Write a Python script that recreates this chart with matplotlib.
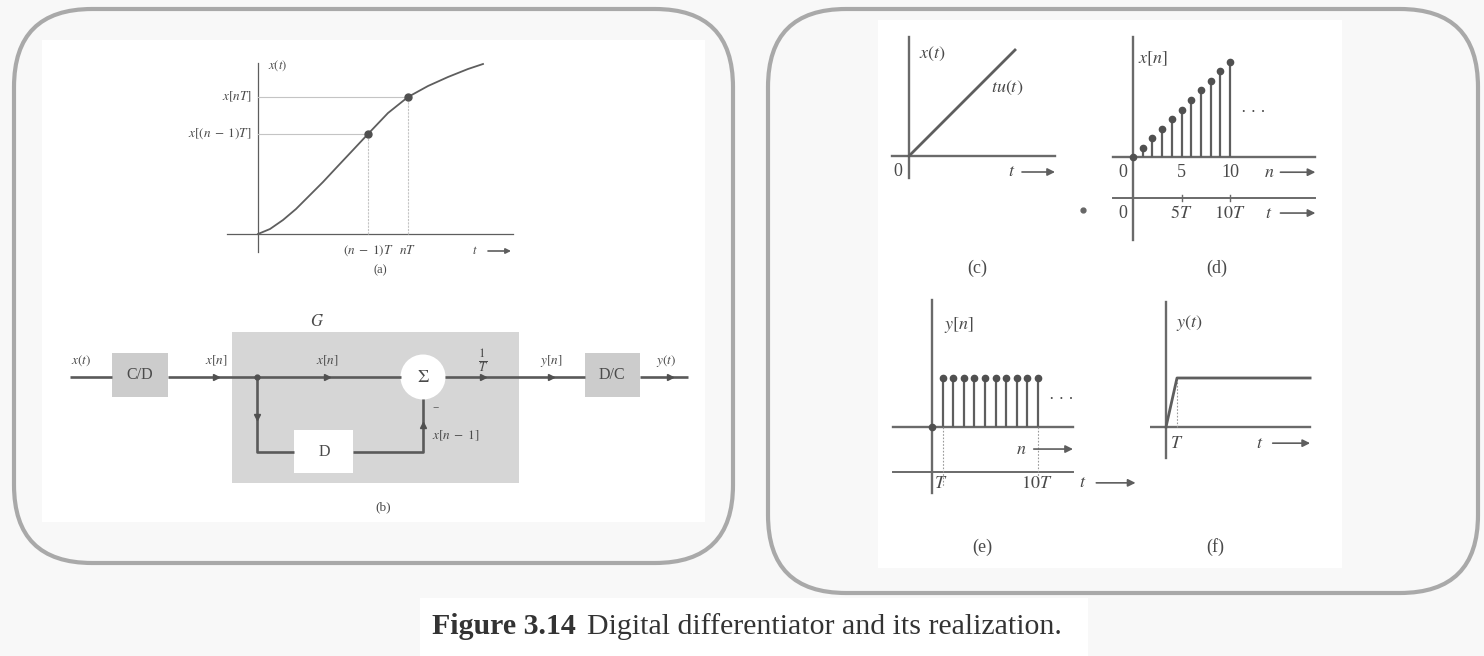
import matplotlib.pyplot as plt
from matplotlib.patches import FancyBboxPatch, Rectangle, Circle

plt.rcParams['font.family'] = ['Liberation Serif', 'DejaVu Serif']
plt.rcParams['mathtext.fontset'] = 'stix'

W, H = 1484, 656
INK = '#4a4a4a'
LINE = '#5e5e5e'
FS = 13  # label size in the right-hand plots

# (a) smooth input x(t) and two of its samples
a_t = [0, 1.2, 2.5, 3.8, 5.0, 6.5, 7.9, 9.5, 11.0, 13.0, 15.0, 17.0, 19.0, 21.0, 22.5]
a_x = [0, 0.5, 1.4, 2.5, 3.7, 5.2, 6.7, 8.4, 10.0, 12.1, 13.7, 14.8, 15.7, 16.5, 17.0]
a_samp_t = [11.0, 15.0]
a_samp_x = [10.0, 13.7]
a_samp_lab = [r'$x[(n\;-\;1)T]$', r'$x[nT]$']
a_tick_lab = [r'$(n\;-\;1)T$', r'$nT$']

# (c) ramp x(t) = t u(t)
c_t = [0, 10.6]
c_x = [0, 10.6]

# (d) sampled ramp x[n]
d_n = [0, 1, 2, 3, 4, 5, 6, 7, 8, 9, 10]
d_x = [0, 1, 2, 3, 4, 5, 6, 7, 8, 9, 10]
d_ticks = [0, 5, 10]
d_nlab = ['0', '5', '10']
d_tlab = ['0', r'$5T$', r'$10T$']

# (e) differentiator output y[n]
e_n = [0, 1, 2, 3, 4, 5, 6, 7, 8, 9, 10]
e_y = [0, 1, 1, 1, 1, 1, 1, 1, 1, 1, 1]

# (f) reconstructed y(t), time in units of T
f_t = [0, 1, 13.1]
f_y = [0, 1, 1]

fig = plt.figure(figsize=(W / 100, H / 100), dpi=100, facecolor='#f8f8f8')
bg = fig.add_axes([0, 0, 1, 1])
bg.set_xlim(0, W)
bg.set_ylim(H, 0)
bg.axis('off')


def panel(x0, y0, x1, y1, ox, oy, sx, sy):
    # axes over a pixel box, data origin at pixel (ox, oy)
    ax = fig.add_axes([x0 / W, 1 - y1 / H, (x1 - x0) / W, (y1 - y0) / H])
    ax.set_xlim((x0 - ox) / sx, (x1 - ox) / sx)
    ax.set_ylim((oy - y1) / sy, (oy - y0) / sy)
    ax.axis('off')
    return ax


def t_arrow(ax, xt, x0, x1, y, lab, size):
    ax.text(xt, y, lab, ha='center', va='center', color=INK, fontsize=size)
    ax.annotate('', xy=(x1, y), xytext=(x0, y),
                arrowprops=dict(arrowstyle='-|>', color=LINE, lw=1.2,
                                mutation_scale=size * 0.85, shrinkA=0, shrinkB=0))


# frames and paper areas
bg.add_patch(Rectangle((42, 40), 663, 482, fc='white', ec='none'))
bg.add_patch(Rectangle((878, 20), 464, 548, fc='white', ec='none'))
bg.add_patch(Rectangle((420, 598), 668, 58, fc='white', ec='none'))
for x0, y0, x1, y1 in [(14, 9, 733, 563), (768, 9, 1478, 593)]:
    bg.add_patch(FancyBboxPatch((x0, y0), x1 - x0, y1 - y0,
                                boxstyle='round,pad=0,rounding_size=78',
                                fc='none', ec='#a9a9a9', lw=3.0))

# ---- (a)
ax = panel(150, 40, 550, 300, 258, 234, 10, 10)
ax.plot([0, 0], [-1.8, 17.1], color=LINE, lw=0.9)
ax.plot([-3.1, 25.5], [0, 0], color=LINE, lw=0.9)
for t, x, lab, tl in zip(a_samp_t, a_samp_x, a_samp_lab, a_tick_lab):
    ax.plot([0, t], [x, x], color='#c4c4c4', lw=0.8)
    ax.plot([t, t], [0, x], color='#c4c4c4', lw=0.8, ls=(0, (2, 1)))
    ax.text(-0.6, x, lab, ha='right', va='center', color=INK, fontsize=9.5)
    ax.text(t, -1.7, tl, ha='center', va='center', color=INK, fontsize=9.5)
ax.plot(a_t, a_x, color=LINE, lw=1.3)
ax.plot(a_samp_t, a_samp_x, 'o', color='#505050', ms=5)
ax.text(2.0, 16.8, r'$x(t)$', ha='center', va='center', color=INK, fontsize=9)
t_arrow(ax, 21.7, 23.0, 25.3, -1.7, r'$t$', 9)
ax.text(12.2, -3.6, '(a)', ha='center', va='center', color=INK, fontsize=9)

# ---- (b) block diagram, pixel units
ly = 377
lk = dict(color='#5a5a5a', lw=1.9, solid_capstyle='butt')
bg.add_patch(Rectangle((232, 332), 287, 151, fc='#d6d6d6', ec='none'))
bg.add_patch(Rectangle((112, 353), 56, 44, fc='#cccccc', ec='none'))
bg.add_patch(Rectangle((585, 353), 55, 44, fc='#cccccc', ec='none'))
bg.plot([70, 112], [ly, ly], **lk)
bg.plot([168, 401], [ly, ly], **lk)
bg.plot([445, 585], [ly, ly], **lk)
bg.plot([640, 688], [ly, ly], **lk)
bg.plot([257, 257, 294], [ly, 452, 452], **lk)
bg.plot([353, 423, 423], [452, 452, 399], **lk)
bg.add_patch(Rectangle((294, 430), 59, 43, fc='white', ec='none'))
bg.add_patch(Circle((423, ly), 22.5, fc='white', ec='none'))
for px, py, m in [(216, ly, '>'), (327, ly, '>'), (483, ly, '>'), (551, ly, '>'),
                  (670, ly, '>'), (257, 417, 'v'), (423, 425, '^')]:
    bg.plot(px, py, marker=m, color='#505050', ms=5)
bg.plot(257, ly, 'o', color='#505050', ms=3.5)
bkw = dict(ha='center', va='center', color=INK, fontsize=9.5)
bg.text(81, 361, r'$x(t)$', **bkw)
bg.text(216, 361, r'$x[n]$', **bkw)
bg.text(327, 361, r'$x[n]$', **bkw)
bg.text(551, 361, r'$y[n]$', **bkw)
bg.text(666, 361, r'$y(t)$', **bkw)
bg.text(483, 361, r'$\frac{1}{T}$', ha='center', va='center', color=INK, fontsize=13)
bg.text(317, 322, r'$G$', ha='center', va='center', color=INK, fontsize=12)
bg.text(432, 436, r'$x[n\;-\;1]$', ha='left', va='center', color=INK, fontsize=9.5)
bg.text(436, 409, '\u2212', ha='center', va='center', color=INK, fontsize=8)
bg.text(423, ly, r'$\Sigma$', ha='center', va='center', color=INK, fontsize=13)
bg.text(140, 375, 'C/D', ha='center', va='center', color=INK, fontsize=11.5)
bg.text(612, 375, 'D/C', ha='center', va='center', color=INK, fontsize=11.5)
bg.text(324, 452, 'D', ha='center', va='center', color=INK, fontsize=11.5)
bg.text(383, 507, '(b)', **bkw)

# ---- (c)
ax = panel(880, 25, 1070, 290, 909, 156, 10, 10)
ax.plot([0, 0], [-2.2, 11.9], color='#6a6a6a', lw=1.7)
ax.plot([-1.7, 14.6], [0, 0], color='#6a6a6a', lw=1.7)
ax.plot(c_t, c_x, color=LINE, lw=2.0)
ax.text(2.3, 10.2, r'$x(t)$', ha='center', va='center', color=INK, fontsize=FS)
ax.text(9.8, 6.8, r'$tu(t)$', ha='center', va='center', color=INK, fontsize=FS)
ax.text(-1.1, -1.6, '0', ha='center', va='center', color=INK, fontsize=FS)
t_arrow(ax, 10.3, 11.3, 14.6, -1.6, r'$t$', FS)
ax.text(6.8, -11.2, '(c)', ha='center', va='center', color=INK, fontsize=FS)

# ---- (d)
ax = panel(1070, 25, 1340, 290, 1133, 157, 9.7, 9.5)
ax.plot([0, 0], [-8.7, 12.6], color='#6a6a6a', lw=1.7)
ax.plot([-2.1, 18.8], [0, 0], color='#6a6a6a', lw=1.7)
ax.plot([-2.1, 18.8], [-4.3, -4.3], color='#6a6a6a', lw=1.4)
ax.vlines(d_n, 0, d_x, color=LINE, lw=1.6)
ax.plot(d_n, d_x, 'o', color='#505050', ms=4.5)
for k, nl, tl in zip(d_ticks, d_nlab, d_tlab):
    dx = -1.0 if k == 0 else 0
    ax.text(k + dx, -1.6, nl, ha='center', va='center', color=INK, fontsize=FS)
    ax.text(k + dx, -5.9, tl, ha='center', va='center', color=INK, fontsize=FS)
    if k:
        ax.plot([k, k], [-4.0, -4.6], color='#6a6a6a', lw=1.0)
t_arrow(ax, 14.0, 15.2, 18.8, -1.6, r'$n$', FS)
t_arrow(ax, 14.0, 15.2, 18.8, -5.9, r'$t$', FS)
ax.text(12.4, 4.6, '\u00b7 \u00b7 \u00b7', ha='center', va='center', color=INK, fontsize=12)
ax.text(2.1, 10.3, r'$x[n]$', ha='center', va='center', color=INK, fontsize=FS)
ax.text(8.6, -11.7, '(d)', ha='center', va='center', color=INK, fontsize=FS)
bg.plot(1083, 210, 'o', color='#666666', ms=3.5)

# ---- (e)
ax = panel(880, 285, 1150, 565, 932, 427, 10.6, 49)
ax.plot([0, 0], [-1.35, 2.59], color='#6a6a6a', lw=1.7)
ax.plot([-3.7, 13.3], [0, 0], color='#6a6a6a', lw=1.7)
ax.plot([-3.7, 13.3], [-0.92, -0.92], color='#6a6a6a', lw=1.4)
ax.vlines(e_n, 0, e_y, color=LINE, lw=1.6)
ax.plot(e_n, e_y, 'o', color='#505050', ms=4.5)
for k in (1, 10):
    ax.plot([k, k], [0, -1.2], color='#9a9a9a', lw=0.8, ls=(0, (1.5, 1.5)))
ax.text(0.8, -1.16, r'$T$', ha='center', va='center', color=INK, fontsize=FS)
ax.text(9.9, -1.16, r'$10T$', ha='center', va='center', color=INK, fontsize=FS)
ax.text(2.5, 2.08, r'$y[n]$', ha='center', va='center', color=INK, fontsize=FS)
ax.text(12.2, 0.55, '\u00b7 \u00b7 \u00b7', ha='center', va='center', color=INK, fontsize=12)
t_arrow(ax, 8.4, 9.6, 13.3, -0.45, r'$n$', FS)
t_arrow(ax, 14.2, 15.5, 19.2, -1.14, r'$t$', FS)
ax.text(4.7, -2.45, '(e)', ha='center', va='center', color=INK, fontsize=FS)

# ---- (f)
ax = panel(1150, 285, 1335, 565, 1166, 427, 11, 49)
ax.plot([0, 0], [-0.63, 2.55], color='#6a6a6a', lw=1.7)
ax.plot([-4.2, 13.1], [0, 0], color='#6a6a6a', lw=1.7)
ax.plot([1, 1], [0, 1], color='#9a9a9a', lw=0.8, ls=(0, (1.5, 1.5)))
ax.plot(f_t, f_y, color=LINE, lw=2.0)
ax.text(1.0, -0.33, r'$T$', ha='center', va='center', color=INK, fontsize=FS)
ax.text(2.1, 2.12, r'$y(t)$', ha='center', va='center', color=INK, fontsize=FS)
t_arrow(ax, 8.5, 9.7, 13.1, -0.33, r'$t$', FS)
ax.text(4.5, -2.45, '(f)', ha='center', va='center', color=INK, fontsize=FS)

# caption: bold figure number, then the title right after it
cap = bg.text(432, 627, 'Figure 3.14', ha='left', va='center', color='#333333',
              fontsize=21.5, fontweight='bold')
r = fig.canvas.get_renderer()
bb = cap.get_window_extent(renderer=r)
bg.text(bb.x1 + 11, 627, 'Digital differentiator and its realization.', ha='left',
        va='center', color='#333333', fontsize=21.5)

fig.savefig('out.png', dpi=100, facecolor=fig.get_facecolor())
